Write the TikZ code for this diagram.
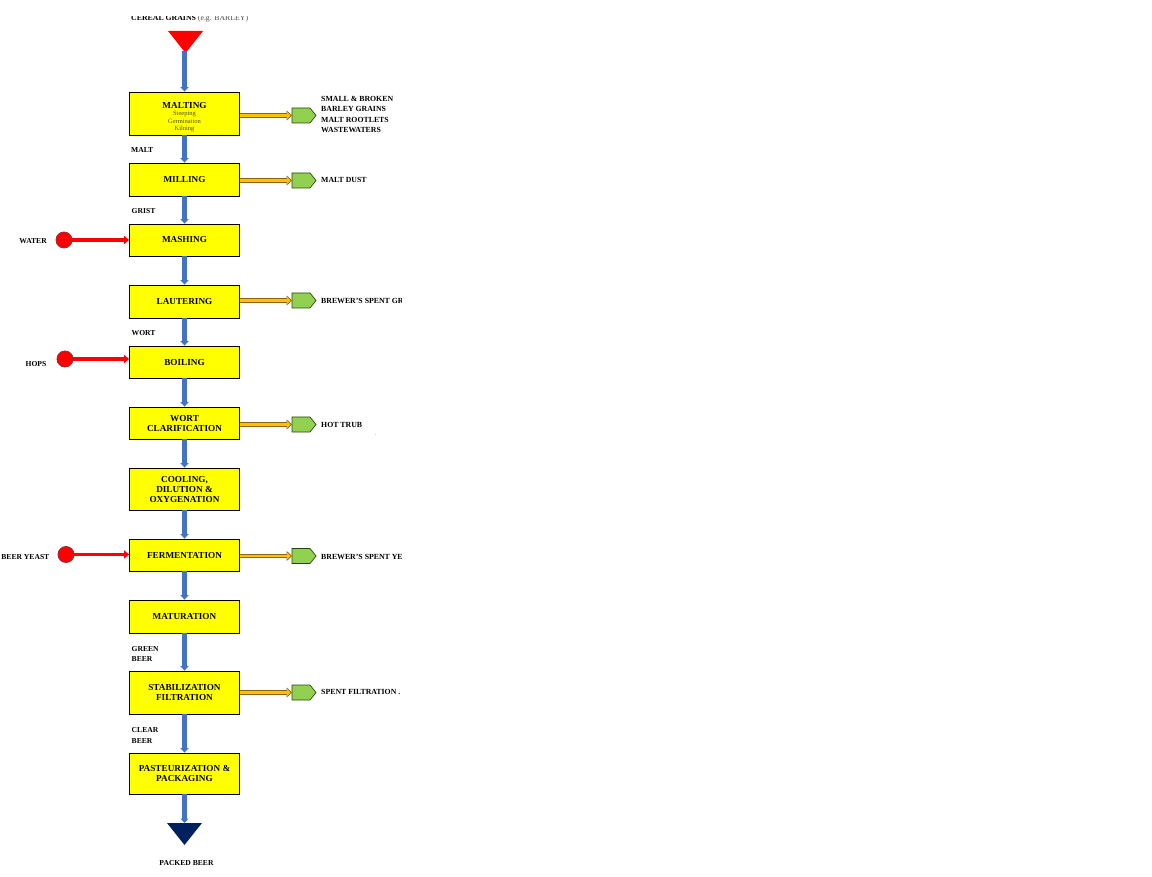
\documentclass[tikz,border=0pt]{standalone}
\usepackage{fontspec}
\setmainfont{Liberation Serif}
\usetikzlibrary{arrows.meta}
\definecolor{boxyellow}{RGB}{255,255,0}
\definecolor{flowblue}{RGB}{68,114,196}
\definecolor{outorange}{RGB}{255,192,0}
\definecolor{outedge}{RGB}{140,100,20}
\definecolor{wastegreen}{RGB}{146,208,80}
\definecolor{wasteedge}{RGB}{40,70,20}
\definecolor{inred}{RGB}{255,0,0}
\definecolor{inedge}{RGB}{150,40,60}
\definecolor{navyend}{RGB}{0,32,96}
\definecolor{subtext}{RGB}{80,80,20}
\newcommand\subtxt{\fontsize{6.5}{7}\selectfont\mdseries\color{subtext}}
\begin{document}
\begin{tikzpicture}[x=1pt,y=-1pt,
  stepbox/.style={draw=black, line width=0.8pt, fill=boxyellow, minimum width=110pt, inner sep=0pt, align=center, font=\fontsize{9.2}{10}\selectfont\bfseries},
  wastepent/.style={fill=wastegreen, draw=wasteedge, line width=0.7pt, line join=miter},
  inbox/.style={circle, fill=inred, draw=inedge, line width=0.8pt, minimum size=16pt, inner sep=0pt},
  sidelabel/.style={anchor=west, align=left, inner sep=0pt, font=\fontsize{7.8}{10.3}\selectfont\bfseries},
  leftlabel/.style={anchor=east, inner sep=0pt, font=\fontsize{7.6}{10}\selectfont\bfseries},
  flowlabel/.style={anchor=west, align=left, inner sep=0pt, font=\fontsize{7.6}{10.5}\selectfont\bfseries},
  flow/.style={flowblue, line width=4.8pt, -{Triangle[length=4.5pt,width=8pt]}},
  inarrow/.style={inred, line width=3.5pt, -{Triangle[length=5pt,width=8pt]}},
  outarrowedge/.style={outedge, line width=4.4pt, -{Triangle[length=5.5pt,width=10pt]}},
  outarrowfill/.style={outorange, line width=2.8pt, shorten >=1.3pt, -{Triangle[length=3.6pt,width=6.8pt]}}
]
\useasboundingbox (0,0) rectangle (1152,877);

% title (clipped at top as in the reference)
\begin{scope}
  \clip (0,16.2) rectangle (1152,40);
  \node[anchor=base west, inner sep=0pt, font=\fontsize{7.8}{9}\selectfont] (title) at (131,21)
    {\bfseries CEREAL GRAINS \mdseries\color{black!70}(e.g. BARLEY)};
\end{scope}

% source triangle
\fill[inred] (168,31) -- (203,31) -- (185.5,53) -- cycle;
\coordinate (src) at (184.5,51);

% process boxes
\node[stepbox, minimum height=43pt] (malt) at (184.5,113.5)
  {\rule{0pt}{13.5pt}MALTING\\[-3.5pt]{\subtxt Steeping}\\[-2pt]{\subtxt Germination}\\[-3pt]{\subtxt Kilning}};
\node[stepbox, minimum height=33pt] (mill) at (184.5,179.5) {MILLING};
\node[stepbox, minimum height=32pt] (mash) at (184.5,240) {MASHING};
\node[stepbox, minimum height=33pt] (laut) at (184.5,301.5) {LAUTERING};
\node[stepbox, minimum height=32pt] (boil) at (184.5,362) {BOILING};
\node[stepbox, minimum height=32pt] (clar) at (184.5,423) {WORT\\CLARIFICATION};
\node[stepbox, minimum height=42pt] (cool) at (184.5,489) {COOLING,\\DILUTION \&\\OXYGENATION};
\node[stepbox, minimum height=32pt] (ferm) at (184.5,555) {FERMENTATION};
\node[stepbox, minimum height=33pt] (matu) at (184.5,616.5) {MATURATION};
\node[stepbox, minimum height=43pt] (stab) at (184.5,692.5) {STABILIZATION\\FILTRATION};
\node[stepbox, minimum height=41pt] (past) at (184.5,773.5) {PASTEURIZATION \&\\PACKAGING};

% sink triangle
\fill[navyend] (167,823) -- (202,823) -- (184.5,845) -- cycle;
\coordinate (sink) at (184.5,823);
\node[inner sep=0pt, font=\fontsize{7.6}{10}\selectfont\bfseries] (packed) at (186.5,863) {PACKED BEER};

% main flow
\draw[flow] (src) -- (malt.north);
\draw[flow] (malt.south) -- (mill.north);
\draw[flow] (mill.south) -- (mash.north);
\draw[flow] (mash.south) -- (laut.north);
\draw[flow] (laut.south) -- (boil.north);
\draw[flow] (boil.south) -- (clar.north);
\draw[flow] (clar.south) -- (cool.north);
\draw[flow] (cool.south) -- (ferm.north);
\draw[flow] (ferm.south) -- (matu.north);
\draw[flow] (matu.south) -- (stab.north);
\draw[flow] (stab.south) -- (past.north);
\draw[flow] (past.south) -- (sink);

% flow labels
\node[flowlabel] (lmalt) at (131,150) {MALT};
\node[flowlabel] (lgrist) at (131.5,211) {GRIST};
\node[flowlabel] (lwort) at (131.5,333) {WORT};
\node[flowlabel] (lgreen) at (131.5,654) {GREEN\\BEER};
\node[flowlabel] (lclear) at (131.5,735.5) {CLEAR\\BEER};

% inputs
\node[inbox] (water) at (64,240) {};
\node[inbox] (hops) at (65,359) {};
\node[inbox] (yeast) at (66,554.5) {};
\draw[inarrow] (water.east) -- (water.east -| mash.west);
\draw[inarrow] (hops.east) -- (hops.east -| boil.west);
\draw[inarrow] (yeast.east) -- (yeast.east -| ferm.west);
\node[leftlabel] (lwater) at (47,241) {WATER};
\node[leftlabel] (lhops) at (46.5,364) {HOPS};
\node[leftlabel] (lyeast) at (49.5,557) {BEER YEAST};

% outputs: pentagons (west point named) and block arrows
\foreach \w/\yy in {w1/115.5, w2/180.5, w3/300.5, w4/424.5, w5/556, w6/692.5}{
  \coordinate (\w) at (292,\yy);
  \draw[wastepent] (292,\yy-7.5) -- (310,\yy-7.5) -- (316,\yy) -- (310,\yy+7.5) -- (292,\yy+7.5) -- cycle;
}
\foreach \b/\w in {malt/w1, mill/w2, laut/w3, clar/w4, ferm/w5, stab/w6}{
  \draw[outarrowedge] (\w -| \b.east) -- (\w);
  \draw[outarrowfill] ([xshift=0.5pt]\w -| \b.east) -- (\w);
}

\begin{scope}
  \clip (0,0) rectangle (401,877);
  \node[sidelabel] (o1) at (321,114.5) {SMALL \& BROKEN\\BARLEY GRAINS\\MALT ROOTLETS\\WASTEWATERS};
  \node[sidelabel] (o2) at (321,180) {MALT DUST};
  \node[sidelabel] (o3) at (321,301) {BREWER'S SPENT GRAINS};
  \node[sidelabel] (o4) at (321,424.5) {HOT TRUB};
  \node[sidelabel] (o5) at (321,556.5) {BREWER'S SPENT YEAST};
  \node[sidelabel] (o6) at (321,692) {SPENT FILTRATION .};
\end{scope}
\node[inner sep=0pt, font=\fontsize{5}{5}\selectfont] (dot) at (376,435) {.};
\end{tikzpicture}
\end{document}
